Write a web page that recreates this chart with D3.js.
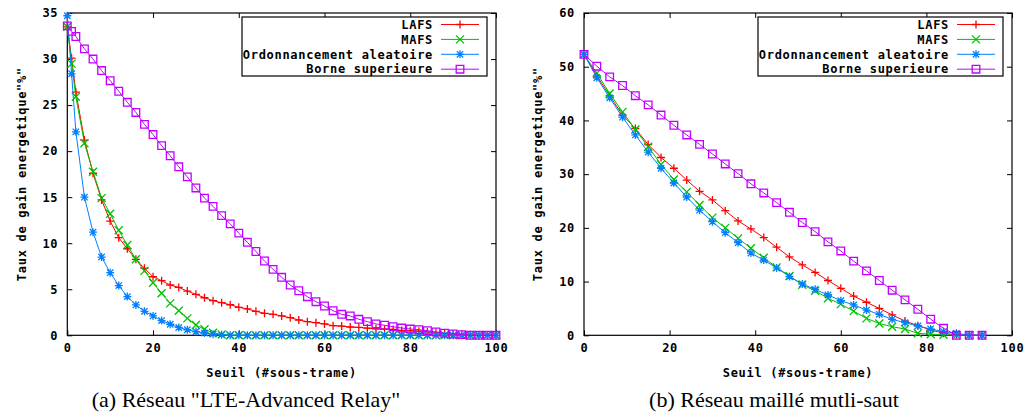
<!DOCTYPE html>
<html>
<head>
<meta charset="utf-8">
<script src="https://cdn.jsdelivr.net/npm/d3@7/dist/d3.min.js"></script>
<style>
  body { margin: 0; background: #fff; }
  svg { display: block; }
  .gp text { font-family: "DejaVu Sans Mono", monospace; font-weight: bold; font-size: 12px; letter-spacing: 0.7px; fill: #000; }
  .caption { font-family: "Liberation Serif", "Times New Roman", serif; font-size: 22px; fill: #000; }
</style>
</head>
<body>
<svg id="chart" width="1026" height="419"></svg>
<script>
// ---- data ----
const seriesNames = ["LAFS", "MAFS", "Ordonnancement aleatoire", "Borne superieure"];
const seriesColors = ["#ff0000", "#00c000", "#0080ff", "#c000ff"];
const seriesMarks = ["plus", "cross", "star", "square"];

// (a) LTE-Advanced Relay
const xsA = [0, 1, 2, 4, 6, 8, 10, 12, 14, 16, 18, 20, 22, 24, 26, 28, 30, 32, 34, 36, 38, 40,
  42, 44, 46, 48, 50, 52, 54, 56, 58, 60, 62, 64, 66, 68, 70, 72, 74, 76, 78, 80,
  82, 84, 86, 88, 90, 92, 94, 96, 98, 100];
const lafsA = [33.5, 30.1, 26.4, 21.2, 17.6, 14.7, 12.4, 10.6, 9.4, 8.25, 7.27, 6.36, 5.93, 5.46, 5.2, 4.8, 4.45, 4.08, 3.76, 3.54, 3.32, 3.04,
  2.86, 2.6, 2.39, 2.28, 2.1, 1.91, 1.66, 1.48, 1.37, 1.23, 1.04, 1.0, 0.9, 0.85, 0.78, 0.7, 0.67, 0.64, 0.52, 0.49,
  0.45, 0.38, 0.3, 0.2, 0.14, 0.1, 0.05, 0, 0, 0];
const mafsA = [33.5, 29.5, 25.9, 20.85, 17.76, 14.9, 13.2, 11.4, 9.8, 8.25, 7.0, 5.7, 4.56, 3.47, 2.67, 1.84, 1.12, 0.65, 0.28, 0.1, 0, 0,
  0, 0, 0, 0, 0, 0, 0, 0, 0, 0, 0, 0, 0, 0, 0, 0, 0, 0, 0, 0,
  0, 0, 0, 0, 0, 0, 0, 0, 0, 0];
const randA = [34.7, 28.4, 22.1, 15.0, 11.2, 8.5, 6.8, 5.4, 4.2, 3.3, 2.6, 2.1, 1.6, 1.2, 0.85, 0.6, 0.4, 0.25, 0.12, 0.05, 0, 0,
  0, 0, 0, 0, 0, 0, 0, 0, 0, 0, 0, 0, 0, 0, 0, 0, 0, 0, 0, 0,
  0, 0, 0, 0, 0, 0, 0, 0, 0, 0];
const borneA = [33.6, 33.0, 32.45, 31.1, 30.0, 28.75, 27.65, 26.5, 25.3, 24.2, 22.9, 21.8, 20.6, 19.5, 18.3, 17.2, 16.0, 14.9, 14.0, 13.0, 12.1, 11.1,
  10.1, 9.1, 8.07, 7.16, 6.3, 5.46, 4.84, 4.19, 3.65, 3.18, 2.67, 2.28, 2.1, 1.74, 1.48, 1.23, 1.09, 0.93, 0.79, 0.68,
  0.61, 0.5, 0.36, 0.22, 0.14, 0.07, 0, 0, 0, 0];

// (b) maillé multi-saut
const xsB = [0, 3, 6, 9, 12, 15, 18, 21, 24, 27, 30, 33, 36, 39, 42, 45,
  48, 51, 54, 57, 60, 63, 66, 69, 72, 75, 78, 81, 84, 87, 90, 93];
const lafsB = [52.3, 48.3, 44.6, 41.0, 38.5, 35.5, 33.1, 31.1, 28.9, 26.8, 25.2, 23.2, 21.3, 19.8, 18.2, 16.4,
  14.6, 13.1, 11.7, 10.2, 8.75, 7.3, 6.15, 5.0, 3.8, 2.65, 1.8, 1.0, 0.37, 0.1, 0, 0];
const mafsB = [52.3, 48.8, 45.0, 41.6, 38.3, 35.1, 31.8, 29.0, 26.7, 24.25, 21.9, 20.0, 18.05, 16.2, 14.45, 12.65,
  11.05, 9.4, 8.3, 6.9, 5.8, 4.5, 3.15, 2.2, 1.6, 1.17, 0.37, 0.2, 0.1, 0, 0, 0];
const randB = [52.3, 47.95, 44.2, 40.6, 37.3, 34.1, 31.1, 28.35, 25.75, 23.3, 21.15, 19.1, 17.25, 15.3, 14.0, 12.55,
  10.95, 9.55, 8.55, 7.5, 6.45, 5.65, 4.7, 3.9, 2.97, 2.35, 1.73, 1.17, 0.7, 0.37, 0, 0];
const borneB = [52.3, 50.1, 48.1, 46.5, 44.6, 42.9, 41.0, 39.1, 37.3, 35.55, 33.75, 31.9, 30.1, 28.2, 26.5, 24.7,
  22.9, 21.0, 19.3, 17.4, 15.7, 13.8, 12.0, 10.2, 8.4, 6.6, 4.85, 3.0, 1.3, 0, 0, 0];

const xTicks = [0, 20, 40, 60, 80, 100];
const yTicksA = [0, 5, 10, 15, 20, 25, 30, 35];
const yTicksB = [0, 10, 20, 30, 40, 50, 60];
const xLabel = "Seuil (#sous-trame)";
const yLabel = 'Taux de gain energetique"%"';
const captions = ['(a) Réseau "LTE-Advanced Relay"', "(b) Réseau maillé mutli-saut"];

// ---- drawing ----
const svg = d3.select("#chart");
svg.append("rect").attr("width", 1026).attr("height", 419).attr("fill", "#fff");

const markPath = (kind, s) => {
  if (kind === "plus") return `M${-s},0H${s}M0,${-s}V${s}`;
  if (kind === "cross") return `M${-s},${-s}L${s},${s}M${-s},${s}L${s},${-s}`;
  if (kind === "star") return `M${-s},0H${s}M0,${-s}V${s}M${-s*0.8},${-s*0.8}L${s*0.8},${s*0.8}M${-s*0.8},${s*0.8}L${s*0.8},${-s*0.8}`;
  return `M${-s},${-s}H${s}V${s}H${-s}Z`;
};

function drawPanel(opts) {
  const { left, right, top, bottom, yMax, yTicks, xs, series, caption, capX } = opts;
  const x = d3.scaleLinear().domain([0, 100]).range([left, right]);
  const y = d3.scaleLinear().domain([0, yMax]).range([bottom, top]);
  const g = svg.append("g").attr("class", "gp");

  // axes with inward ticks, mirrored on top and right
  g.append("g").attr("transform", `translate(0,${bottom})`)
    .call(d3.axisBottom(x).tickValues(xTicks).tickSize(-5).tickSizeOuter(0).tickPadding(8));
  g.append("g").attr("transform", `translate(${left},0)`)
    .call(d3.axisLeft(y).tickValues(yTicks).tickSize(-5).tickSizeOuter(0).tickPadding(9));
  g.append("g").attr("transform", `translate(0,${top})`)
    .call(d3.axisTop(x).tickValues(xTicks).tickSize(-5).tickSizeOuter(0).tickFormat(""));
  g.append("g").attr("transform", `translate(${right},0)`)
    .call(d3.axisRight(y).tickValues(yTicks).tickSize(-5).tickSizeOuter(0).tickFormat(""));
  g.selectAll(".domain").remove();
  g.selectAll(".tick line").attr("stroke", "#000");
  g.selectAll(".tick text").attr("font-family", null).attr("font-size", null);

  g.append("rect")
    .attr("x", left).attr("y", top)
    .attr("width", right - left).attr("height", bottom - top)
    .attr("fill", "none").attr("stroke", "#000").attr("stroke-width", 1.2);

  // series
  const line = d3.line().x(d => x(d[0])).y(d => y(d[1]));
  series.forEach((vals, i) => {
    const pts = xs.map((v, k) => [v, vals[k]]);
    g.append("path").datum(pts)
      .attr("d", line)
      .attr("fill", "none")
      .attr("stroke", seriesColors[i])
      .attr("stroke-width", 1);
    const sz = seriesMarks[i] === "square" ? 3.8 : 4;
    g.append("g").selectAll("path").data(pts).join("path")
      .attr("transform", d => `translate(${x(d[0])},${y(d[1])})`)
      .attr("d", markPath(seriesMarks[i], sz))
      .attr("fill", "none")
      .attr("stroke", seriesColors[i])
      .attr("stroke-width", 1.3);
  });

  // legend
  const lgRight = right - 9;
  const lg = g.append("g");
  lg.append("rect")
    .attr("x", lgRight - 245).attr("y", top + 4)
    .attr("width", 245).attr("height", 59)
    .attr("fill", "#fff").attr("stroke", "#000").attr("stroke-width", 1.2);
  seriesNames.forEach((name, i) => {
    const yy = top + 11.5 + i * 14.9;
    lg.append("text")
      .attr("x", right - 63).attr("y", yy)
      .attr("dy", "0.35em")
      .attr("text-anchor", "end")
      .text(name);
    lg.append("line")
      .attr("x1", right - 55).attr("x2", right - 17)
      .attr("y1", yy).attr("y2", yy)
      .attr("stroke", seriesColors[i]).attr("stroke-width", 1);
    lg.append("path")
      .attr("transform", `translate(${right - 36},${yy})`)
      .attr("d", markPath(seriesMarks[i], seriesMarks[i] === "square" ? 3.8 : 4))
      .attr("fill", "none")
      .attr("stroke", seriesColors[i])
      .attr("stroke-width", 1.3);
  });

  // axis titles
  g.append("text")
    .attr("x", (left + right) / 2).attr("y", 373)
    .attr("dy", "0.35em")
    .attr("text-anchor", "middle")
    .text(xLabel);
  g.append("text")
    .attr("transform", `translate(${left - 46},${(top + bottom) / 2}) rotate(-90)`)
    .attr("dy", "0.35em")
    .attr("text-anchor", "middle")
    .text(yLabel);

  svg.append("text")
    .attr("class", "caption")
    .attr("x", capX).attr("y", 407)
    .attr("text-anchor", "middle")
    .text(caption);
}

drawPanel({
  left: 67.3, right: 496, top: 13, bottom: 335.3,
  yMax: 35, yTicks: yTicksA, xs: xsA,
  series: [lafsA, mafsA, randA, borneA],
  caption: captions[0], capX: 246
});
drawPanel({
  left: 584, right: 1012, top: 13, bottom: 335.3,
  yMax: 60, yTicks: yTicksB, xs: xsB,
  series: [lafsB, mafsB, randB, borneB],
  caption: captions[1], capX: 774
});
</script>
</body>
</html>
